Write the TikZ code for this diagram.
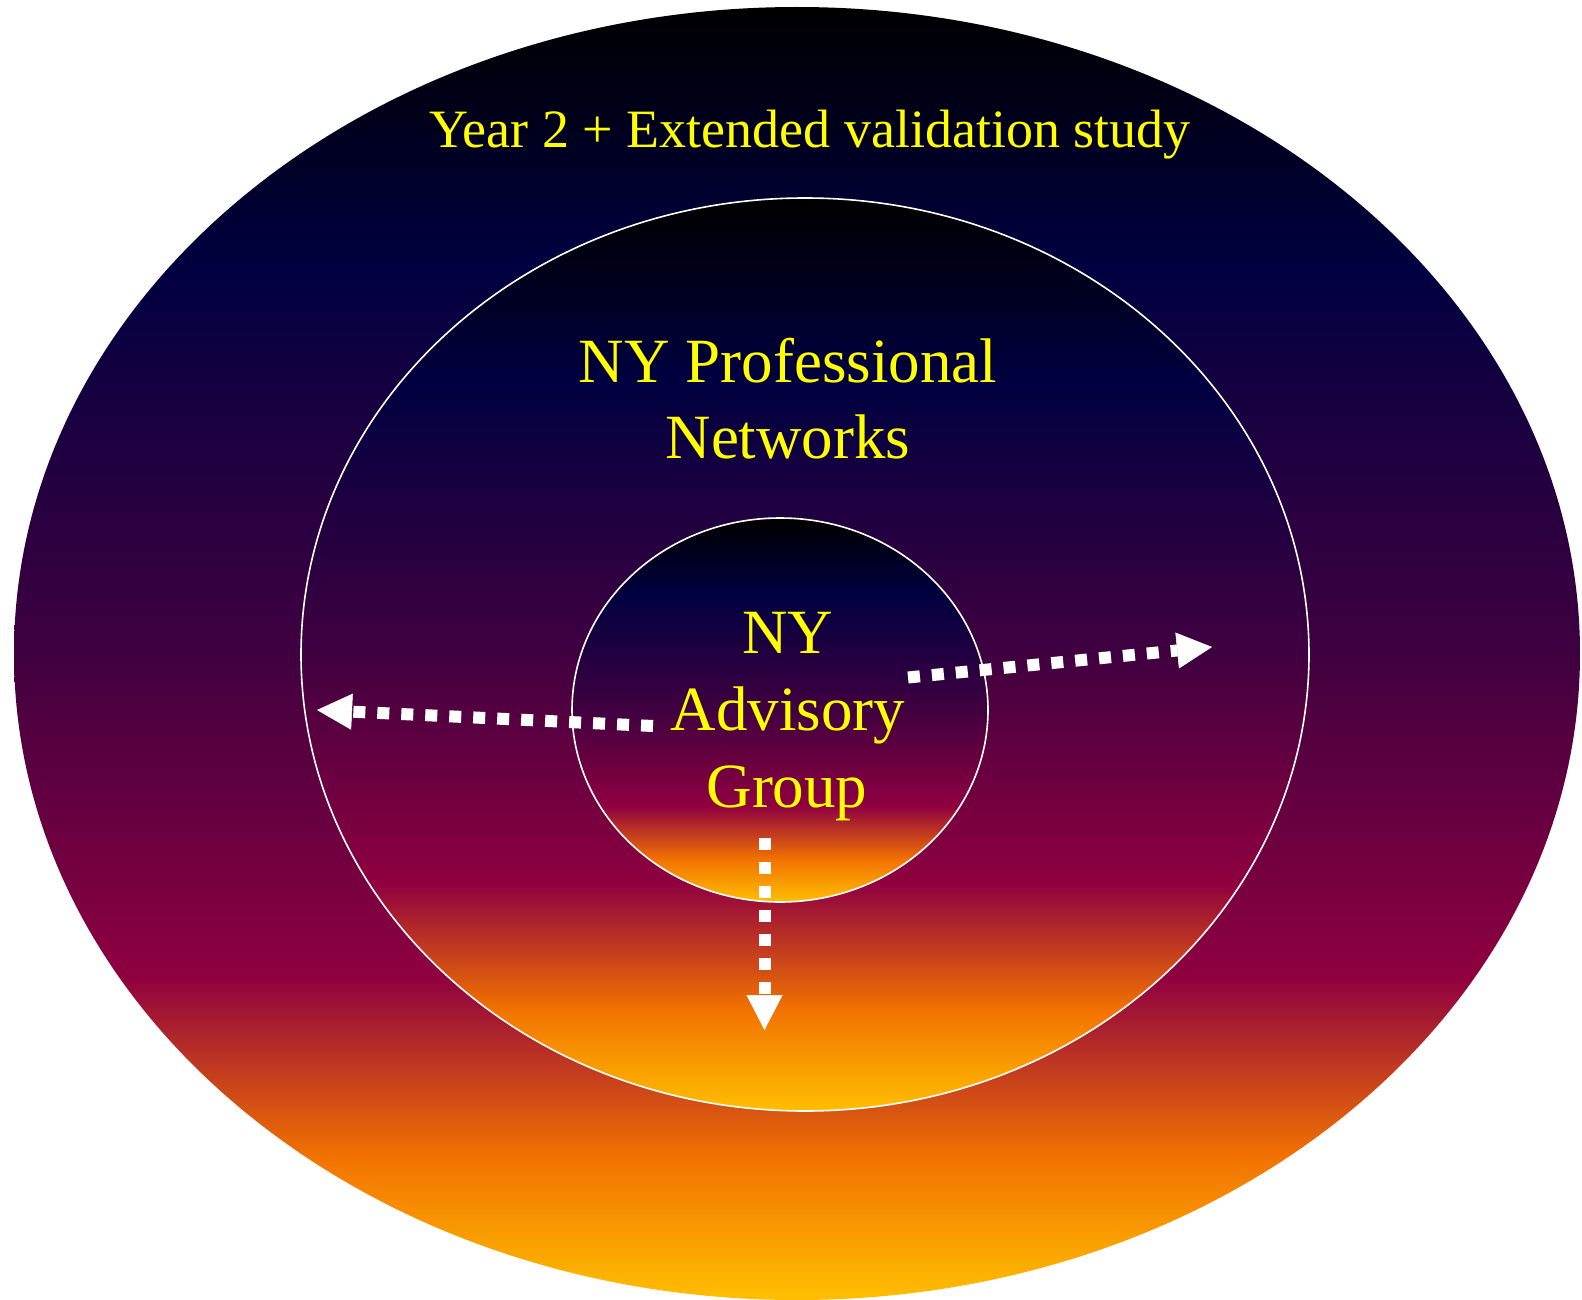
\documentclass[tikz,border=0pt]{standalone}
\usepackage{fontspec}
\setmainfont{Liberation Serif}
\usetikzlibrary{arrows.meta,shapes.geometric}
\definecolor{lsblack}{HTML}{000000}
\definecolor{lsnavy}{HTML}{000040}
\definecolor{lspurple}{HTML}{400040}
\definecolor{lsmagenta}{HTML}{8F0040}
\definecolor{lsorange}{HTML}{F27300}
\definecolor{lsgold}{HTML}{FFBF00}
\definecolor{txtyellow}{HTML}{FFFF00}
\pgfdeclareverticalshading{latesunset}{100bp}{color(0bp)=(lsgold); color(25bp)=(lsgold); color(30.5bp)=(lsorange); color(37.5bp)=(lsmagenta); color(50bp)=(lspurple); color(65bp)=(lsnavy); color(75bp)=(lsblack); color(100bp)=(lsblack)}
\tikzset{
  sunset/.style={ellipse, inner sep=0pt, outer sep=0pt, shade, shading=latesunset},
  rim/.style={draw=white, line width=1.6pt},
  lbl/.style={text=txtyellow, anchor=base, inner sep=0pt},
  dotarrow/.style={draw=white, line width=12pt, dash pattern=on 12pt off 12pt,
    -{Triangle[length=35pt,width=36pt,line width=0.5pt]}}
}
\begin{document}
\begin{tikzpicture}[x=1pt,y=-1pt]
\useasboundingbox (0,0) rectangle (1582,1300);
\fill[white] (0,0) rectangle (1582,1300);
% ellipses
\node[sunset, minimum width=1566pt, minimum height=1293pt] (outer) at (797,653.5) {};
\node[sunset, rim, minimum width=1008pt, minimum height=913pt] (middle) at (805,654.5) {};
\node[sunset, rim, minimum width=416pt, minimum height=384pt] (inner) at (780,710) {};
% labels
\node[lbl, font=\fontsize{54}{65}\selectfont] (year) at (810,147.5) {Year 2 + Extended validation study};
\node[lbl, font=\fontsize{63}{76}\selectfont] (prof1) at (788,382) {NY Professional};
\node[lbl, font=\fontsize{63}{76}\selectfont] (prof2) at (788,458) {Networks};
\node[lbl, font=\fontsize{63}{76}\selectfont] (adv1) at (788,653.5) {NY};
\node[lbl, font=\fontsize{63}{76}\selectfont] (adv2) at (788,730) {Advisory};
\node[lbl, font=\fontsize{63}{76}\selectfont] (adv3) at (787,807) {Group};
% arrows
\coordinate (lstart) at (653,726);
\coordinate (ltip) at (317,710);
\coordinate (rstart) at (908,677.5);
\coordinate (rtip) at (1212,647);
\coordinate (dstart) at (764.5,838);
\coordinate (dtip) at (764.5,1030);
\draw[dotarrow] (lstart) -- (ltip);
\draw[dotarrow] (rstart) -- (rtip);
\draw[dotarrow] (dstart) -- (dtip);
\end{tikzpicture}
\end{document}
